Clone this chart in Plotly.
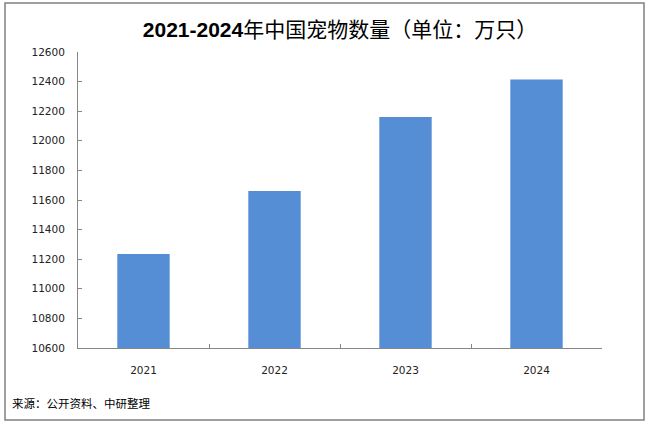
import plotly.graph_objects as go

years = ["2021", "2022", "2023", "2024"]
pets = [11235, 11660, 12160, 12415]
y_ticks = [10600, 10800, 11000, 11200, 11400, 11600, 11800, 12000, 12200, 12400, 12600]
y_tick_labels = [str(v) for v in y_ticks]

title_text = "<b>2021-2024</b>年中国宠物数量（单位：万只）"
source_text = "来源：公开资料、中研整理"

W, H = 654, 423
L, R, T, B = 78, 52, 52, 75
pw, ph = W - L - R, H - T - B

def px(x):
    return (x - L) / pw

def py(y):
    return (H - B - y) / ph

fig = go.Figure(go.Bar(
    x=years, y=pets, width=0.4,
    marker=dict(color="#558ED5", line=dict(width=0)),
))

fig.update_layout(
    width=W, height=H,
    margin=dict(l=L, r=R, t=T, b=B),
    paper_bgcolor="white", plot_bgcolor="white",
    showlegend=False,
    font=dict(family="DejaVu Sans", size=10.5, color="#222222"),
    title=dict(text=title_text, x=0.5, xanchor="center", xref="paper",
               y=1 - 30 / H, yanchor="middle",
               font=dict(family="Liberation Sans, Noto Sans CJK SC", size=21, color="#000000")),
    xaxis=dict(type="category", range=[-0.5, 3.5], showline=True, linecolor="#868686",
               linewidth=1, ticks="inside", ticklen=4, tickcolor="#868686",
               tickson="boundaries", showgrid=False, ticklabelstandoff=12,
               tickfont=dict(family="DejaVu Sans", size=10.5, color="#222222")),
    yaxis=dict(range=[10600, 12600], tickvals=y_ticks, ticktext=y_tick_labels,
               showline=True, linecolor="#868686",
               linewidth=1, ticks="inside", ticklen=4, tickcolor="#868686",
               showgrid=False, zeroline=False, ticklabelstandoff=10,
               tickfont=dict(family="DejaVu Sans", size=10.5, color="#222222")),
    shapes=[dict(type="rect", xref="paper", yref="paper",
                 x0=px(5), x1=px(644), y0=py(420), y1=py(3),
                 line=dict(color="#808080", width=1.5), fillcolor="rgba(0,0,0,0)")],
    annotations=[dict(text=source_text, xref="paper", yref="paper",
                      x=px(10), y=py(403), xanchor="left", yanchor="middle",
                      showarrow=False,
                      font=dict(family="Noto Sans CJK SC", size=11.5, color="#000000"))],
)

fig.write_html("out.html", config={"displayModeBar": False},
               post_script="document.body.style.margin='0';document.body.style.overflow='hidden';")
